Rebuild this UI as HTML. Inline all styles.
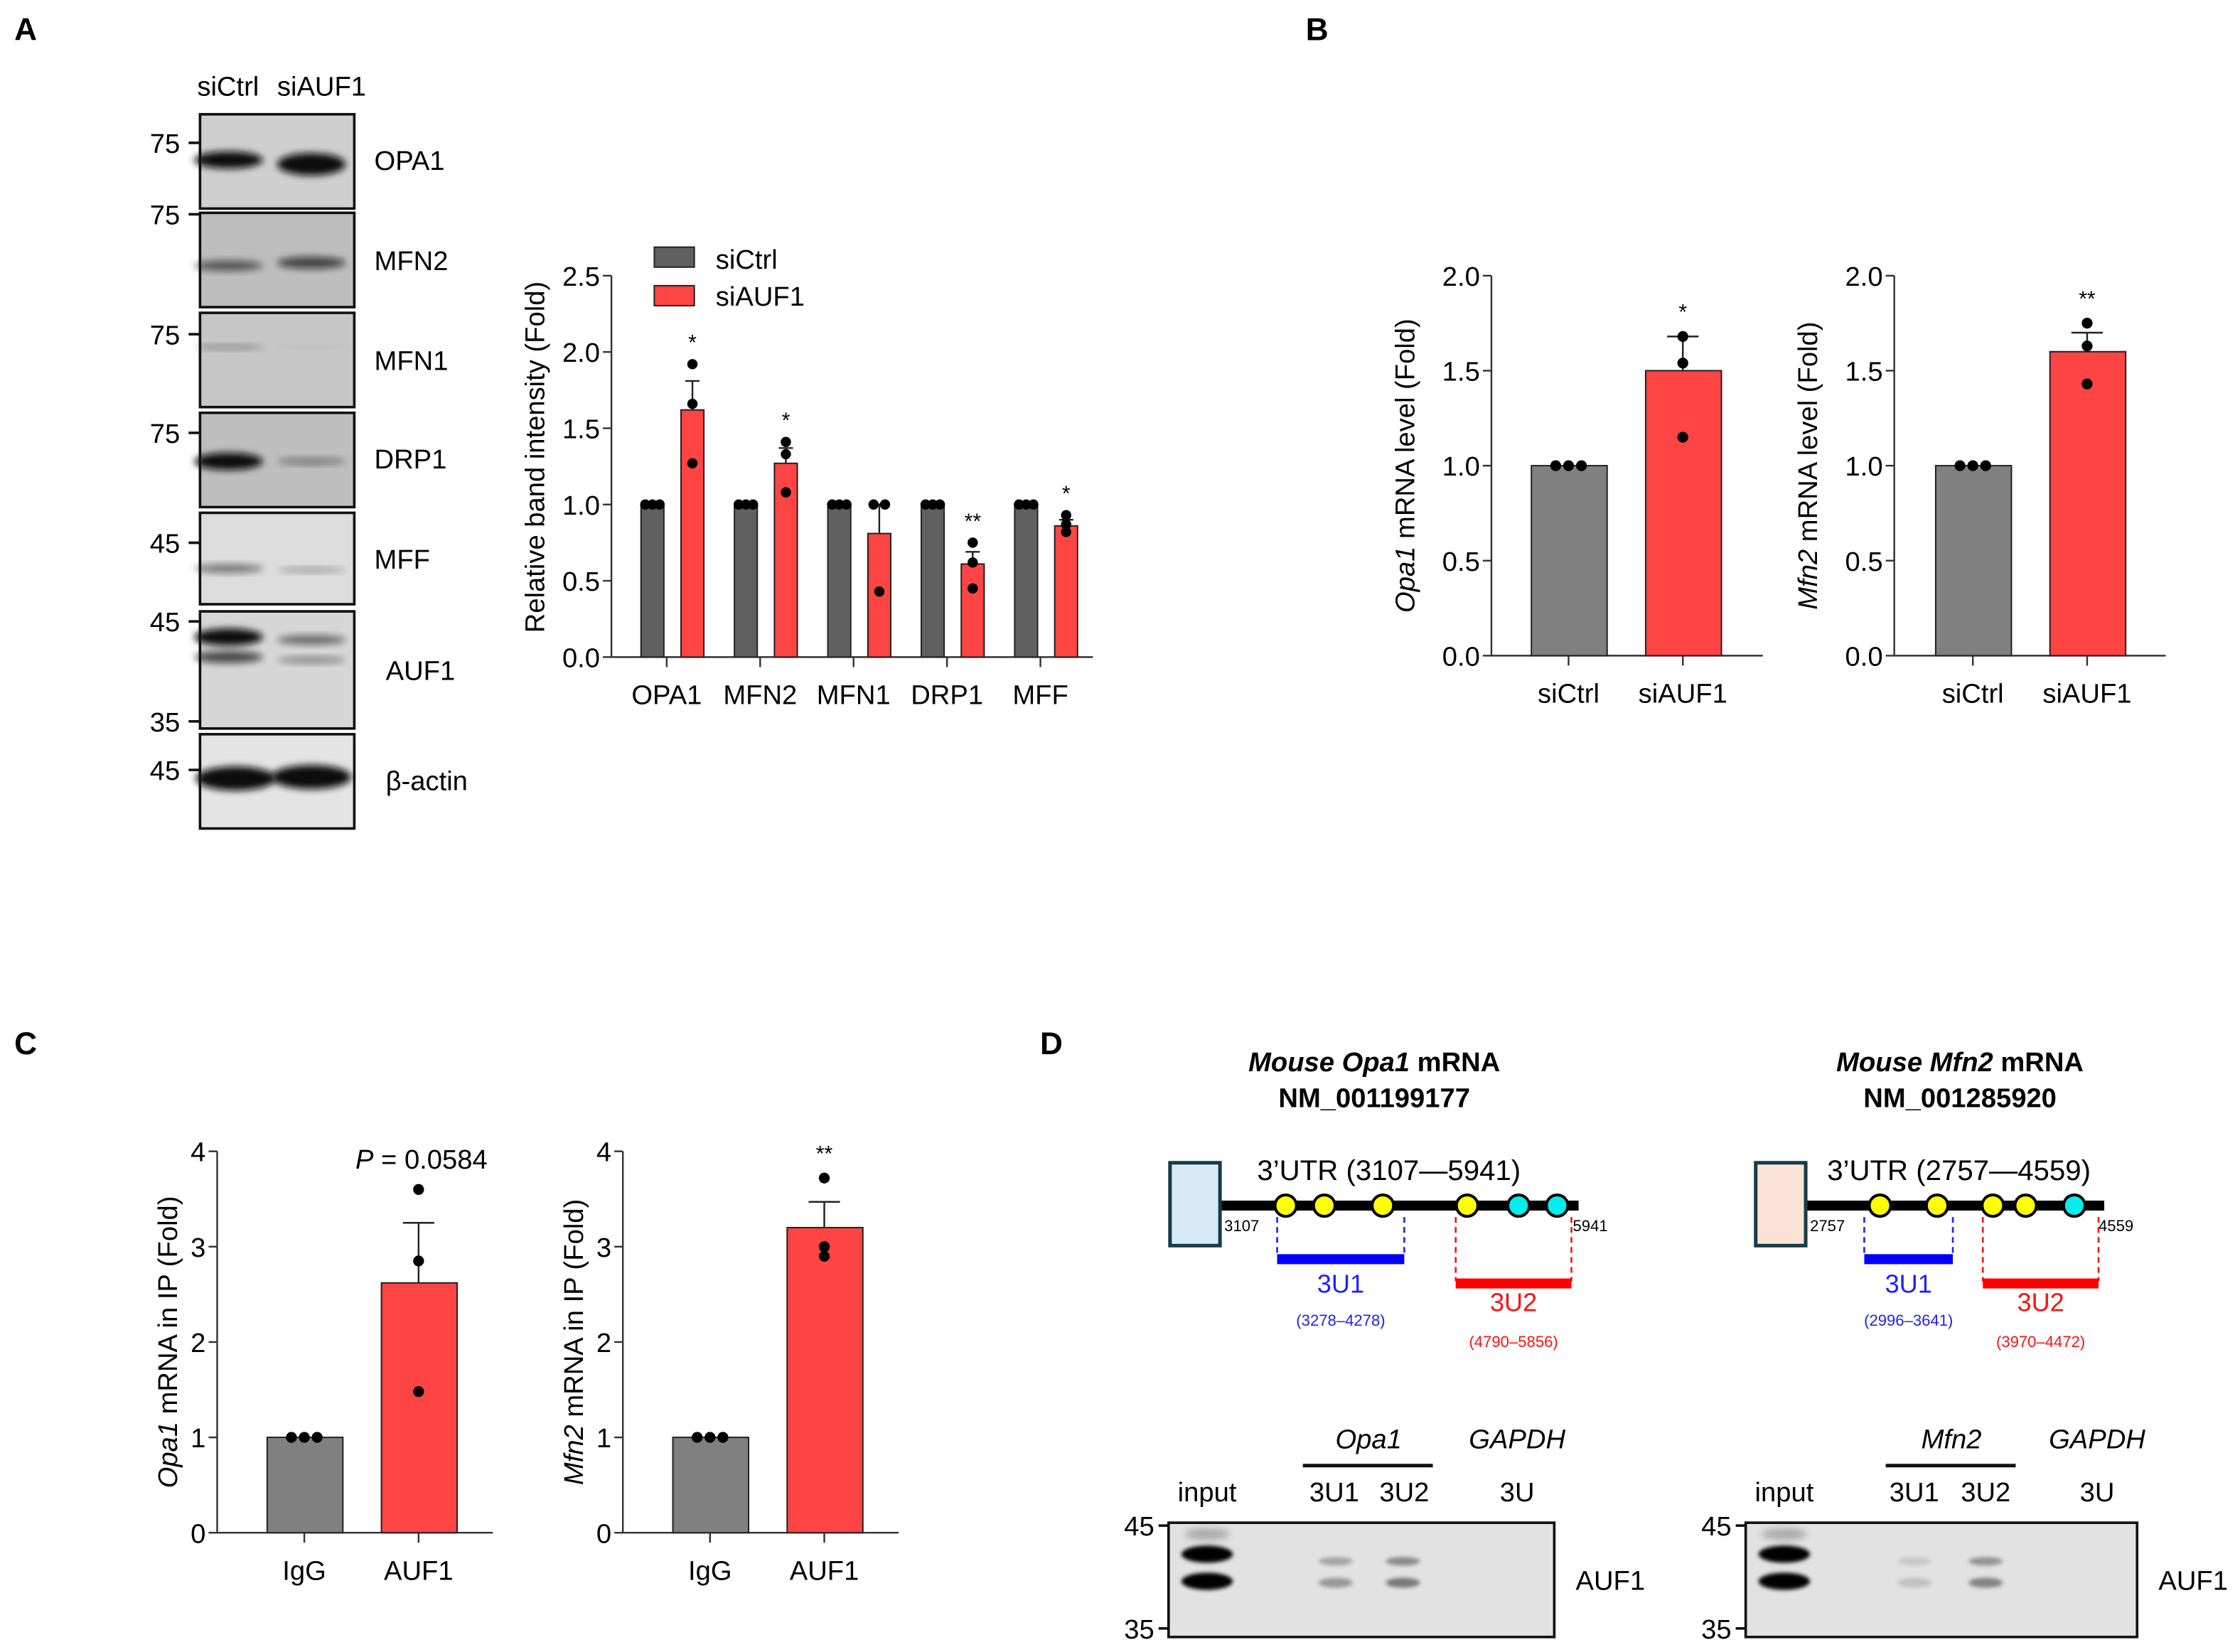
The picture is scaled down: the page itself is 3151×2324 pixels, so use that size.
<!DOCTYPE html>
<html><head><meta charset="utf-8">
<style>
html,body{margin:0;padding:0;background:#fff;}
svg{display:block;font-family:"Liberation Sans",Arial,sans-serif;}
</style></head>
<body>
<svg id="fig" xmlns="http://www.w3.org/2000/svg" width="3151" height="2324" viewBox="0 0 1568 1156.5">
<defs>
<filter id="blur2" x="-20%" y="-50%" width="140%" height="200%"><feGaussianBlur stdDeviation="2.5"/></filter>
<filter id="blur1" x="-20%" y="-50%" width="140%" height="200%"><feGaussianBlur stdDeviation="1.5"/></filter>
</defs>

<text x="10" y="28" font-size="22" font-weight="bold">A</text>
<text x="914" y="28" font-size="22" font-weight="bold">B</text>
<text x="10" y="738" font-size="22" font-weight="bold">C</text>
<text x="728" y="738" font-size="22" font-weight="bold">D</text>

<g font-size="19">
<text x="138" y="67">siCtrl</text>
<text x="194" y="67">siAUF1</text>
<g id="blotsA"></g>
</g>

<g id="chartA"></g>
<g id="chartB1"></g>
<g id="chartB2"></g>
<g id="chartC1"></g>
<g id="chartC2"></g>

<g>
<text x="962" y="750" font-size="19" font-weight="bold" text-anchor="middle"><tspan font-style="italic">Mouse Opa1</tspan> mRNA</text>
<text x="962" y="775" font-size="19" font-weight="bold" text-anchor="middle">NM_001199177</text>
<text x="1372" y="750" font-size="19" font-weight="bold" text-anchor="middle"><tspan font-style="italic">Mouse Mfn2</tspan> mRNA</text>
<text x="1372" y="775" font-size="19" font-weight="bold" text-anchor="middle">NM_001285920</text>
<g id="diagrams"></g>
<g id="blotsD"></g>
</g>

<script>
var NS='http://www.w3.org/2000/svg';
function mk(parent,tag,attrs,txt){var e=document.createElementNS(NS,tag);for(var k in attrs)e.setAttribute(k,attrs[k]);if(txt!==undefined)e.textContent=txt;parent.appendChild(e);return e;}

var catsA=['OPA1','MFN2','MFN1','DRP1','MFF'];
var ctrlA=[1,1,1,1,1];
var aufA=[1.62,1.27,0.81,0.61,0.86];
var errA=[0.19,0.10,0.19,0.08,0.04];
var dotsA=[[1.92,1.66,1.27],[1.41,1.33,1.08],[1.0,1.0,0.43],[0.75,0.62,0.45],[0.93,0.87,0.82]];
var starsA=['*','*','','**','*'];
var ticksA=['0.0','0.5','1.0','1.5','2.0','2.5'];

var catsB=['siCtrl','siAUF1'];
var opa1B=[1.0,1.5];
var opa1BErr=[0,0.18];
var opa1BDots=[[1,1,1],[1.68,1.54,1.15]];
var mfn2B=[1.0,1.6];
var mfn2BErr=[0,0.1];
var mfn2BDots=[[1,1,1],[1.75,1.63,1.43]];
var ticksB=['0.0','0.5','1.0','1.5','2.0'];

var catsC=['IgG','AUF1'];
var opa1C=[1.0,2.62];
var opa1CErr=[0,0.63];
var opa1CDots=[[1,1,1],[3.6,2.85,1.48]];
var mfn2C=[1.0,3.2];
var mfn2CErr=[0,0.27];
var mfn2CDots=[[1,1,1],[3.72,3.0,2.9]];
var ticksC=['0','1','2','3','4'];

var GRAY='#808080', GRAYA='#606060', RED='#ff4444';

function axisY(g,x0,y0,y1,vmax,ticks,fs){
  mk(g,'line',{x1:x0,y1:y0,x2:x0,y2:y1,stroke:'#333','stroke-width':1.2});
  ticks.forEach(function(t){var v=parseFloat(t);var y=y0-(y0-y1)*v/vmax;
    mk(g,'line',{x1:x0-6,y1:y,x2:x0,y2:y,stroke:'#333','stroke-width':1.2});
    var tx=mk(g,'text',{x:x0-8,y:y+7,'font-size':fs,'text-anchor':'end'},t);
    
    
  });
}

(function(){
  var g=document.getElementById('chartA');
  var x0=428,y0=460,y1=193,vmax=2.5,xEnd=765;
  var Y=function(v){return y0-(y0-y1)*v/vmax;};
  axisY(g,x0,y0,y1,vmax,ticksA,19);
  mk(g,'line',{x1:x0,y1:y0,x2:xEnd,y2:y0,stroke:'#333','stroke-width':1.2});
  var t=mk(g,'text',{x:0,y:0,'font-size':19,'text-anchor':'middle',transform:'translate(381,320) rotate(-90)'},'Relative band intensity (Fold)');
  
  
  var step=(xEnd-x0-10)/catsA.length;
  catsA.forEach(function(c,i){
    var cx=x0+14+step*(i+0.5);
    var gb=mk(g,'rect',{x:cx-26,y:Y(ctrlA[i]),width:16,height:y0-Y(ctrlA[i]),fill:GRAYA,stroke:'#222','stroke-width':1});
    
    
    [-5,0,5].forEach(function(o){var d=mk(g,'circle',{cx:cx-18+o,cy:Y(ctrlA[i]),r:3.6,fill:'#000'});
      
      });
    var rx=cx+2;
    mk(g,'line',{x1:rx+8,y1:Y(aufA[i]),x2:rx+8,y2:Y(aufA[i]+errA[i]),stroke:'#222','stroke-width':1.2});
    mk(g,'line',{x1:rx+3,y1:Y(aufA[i]+errA[i]),x2:rx+13,y2:Y(aufA[i]+errA[i]),stroke:'#222','stroke-width':1.2});
    var rb=mk(g,'rect',{x:rx,y:Y(aufA[i]),width:16,height:y0-Y(aufA[i]),fill:RED,stroke:'#222','stroke-width':1});
    
    
    dotsA[i].forEach(function(v,k){var off=0;
      if(dotsA[i][0]===dotsA[i][1]&&k<2) off=(k===0?-4:4);
      var d=mk(g,'circle',{cx:rx+8+off,cy:Y(v),r:3.6,fill:'#000'});
      
      
    });
    if(starsA[i]){var s=mk(g,'text',{x:rx+8,y:Y(Math.max.apply(null,dotsA[i].concat([aufA[i]+errA[i]])))-10,'font-size':15,'text-anchor':'middle'},starsA[i]);
      
      }
    mk(g,'line',{x1:cx-8,y1:y0,x2:cx-8,y2:y0+7,stroke:'#333','stroke-width':1.2});
    var l=mk(g,'text',{x:cx-8,y:y0+33,'font-size':19,'text-anchor':'middle'},c);
    
    
  });
  var lg=mk(g,'g',{});
  
  
  mk(lg,'rect',{x:458,y:173,width:28,height:14,fill:GRAYA,stroke:'#222','stroke-width':1});
  mk(lg,'text',{x:501,y:188,'font-size':19},'siCtrl');
  mk(lg,'rect',{x:458,y:200,width:28,height:14,fill:RED,stroke:'#222','stroke-width':1});
  mk(lg,'text',{x:501,y:214,'font-size':19},'siAUF1');
})();

function twoBar(id,x0,y0,y1,vmax,ticks,vals,errs,dts,cats,star,title,titleX,titleIt,extraTxt,c0,c1,xLen){
  var g=document.getElementById(id);
  var xEnd=x0+xLen;
  var Y=function(v){return y0-(y0-y1)*v/vmax;};
  axisY(g,x0,y0,y1,vmax,ticks,19);
  mk(g,'line',{x1:x0,y1:y0,x2:xEnd,y2:y0,stroke:'#333','stroke-width':1.2});
  var t=mk(g,'text',{x:0,y:0,'font-size':19,'text-anchor':'middle',transform:'translate('+titleX+','+(y1+(y0-y1)/2)+') rotate(-90)'});
  
  
  mk(t,'tspan',{'font-style':'italic'},titleIt);
  mk(t,'tspan',{},title);
  var centers=[x0+c0,x0+c1];
  [0,1].forEach(function(i){
    var cx=centers[i];
    if(errs[i]>0){
      mk(g,'line',{x1:cx,y1:Y(vals[i]),x2:cx,y2:Y(vals[i]+errs[i]),stroke:'#222','stroke-width':1.2});
      mk(g,'line',{x1:cx-11,y1:Y(vals[i]+errs[i]),x2:cx+11,y2:Y(vals[i]+errs[i]),stroke:'#222','stroke-width':1.2});
    }
    var b=mk(g,'rect',{x:cx-26,y:Y(vals[i]),width:53,height:y0-Y(vals[i]),fill:i?RED:GRAY,stroke:'#222','stroke-width':1});
    
    
    var same=dts[i].every(function(a){return a===dts[i][0];});
    dts[i].forEach(function(v,k){
      var d=mk(g,'circle',{cx:cx+(same?(k-1)*9:0),cy:Y(v),r:3.8,fill:'#000'});
      
      
    });
    mk(g,'line',{x1:cx,y1:y0,x2:cx,y2:y0+7,stroke:'#333','stroke-width':1.2});
    var l=mk(g,'text',{x:cx,y:y0+33,'font-size':19,'text-anchor':'middle'},cats[i]);
    
    
  });
  if(star){var top=Math.max.apply(null,dts[1].concat([vals[1]+errs[1]]));
    var s=mk(g,'text',{x:centers[1],y:Y(top)-12,'font-size':15,'text-anchor':'middle'},star);
    
    }
  if(extraTxt){var e=mk(g,'text',{x:centers[1]+2,y:Y(vmax)+12,'font-size':19,'text-anchor':'middle'});
    
    
    mk(e,'tspan',{'font-style':'italic'},'P');
    mk(e,'tspan',{},' = 0.0584');}
}
twoBar('chartB1',1044,459,193,2.0,ticksB,opa1B,opa1BErr,opa1BDots,catsB,'*',' mRNA level (Fold)',990,'Opa1',false,54,134,190);
twoBar('chartB2',1326,459,193,2.0,ticksB,mfn2B,mfn2BErr,mfn2BDots,catsB,'**',' mRNA level (Fold)',1272,'Mfn2',false,55,135,190);
twoBar('chartC1',152,1073,806,4,ticksC,opa1C,opa1CErr,opa1CDots,catsC,'',' mRNA in IP (Fold)',124,'Opa1',true,61,141,193);
twoBar('chartC2',436,1073,806,4,ticksC,mfn2C,mfn2CErr,mfn2CDots,catsC,'**',' mRNA in IP (Fold)',408,'Mfn2',false,61,141,193);

(function(){
  var g=document.getElementById('blotsA');
  var blots=[
    {n:'OPA1',y:80,h:66,bg:'#cfcfcf',bands:[[160,112,1],[215,115,1.3]],ly:119,lx:262},
    {n:'MFN2',y:149,h:66,bg:'#bdbdbd',bands:[[160,186,0.6],[215,184,0.7]],ly:189,lx:262},
    {n:'MFN1',y:219,h:66,bg:'#c6c6c6',bands:[[160,243,0.3],[215,243,0.12]],ly:259,lx:262},
    {n:'DRP1',y:289,h:66,bg:'#bebebe',bands:[[160,323,1],[215,323,0.4]],ly:328,lx:262},
    {n:'MFF',y:359,h:64,bg:'#dcdcdc',bands:[[160,398,0.5],[215,399,0.3]],ly:398,lx:262},
    {n:'AUF1',y:428,h:82,bg:'#d6d6d6',bands:[[160,446,1],[215,448,0.55],[160,460,0.7],[215,462,0.4]],ly:476,lx:270},
    {n:'β-actin',y:514,h:66,bg:'#e4e4e4',bands:[[165,545,1.6],[215,544,1.6]],ly:553,lx:270}
  ];
  blots.forEach(function(b){
    var gg=mk(g,'g',{});
    
    
    mk(gg,'rect',{x:140,y:b.y,width:108,height:b.h,fill:b.bg});
    b.bands.forEach(function(d){
      var w=b.n==='β-actin'?28:24;
      mk(gg,'ellipse',{cx:d[0]+(d[0]>190?3:0),cy:d[1],rx:w,ry:6*Math.min(d[2],1.4),fill:'#111',opacity:Math.min(d[2],1),filter:'url(#blur2)'});
    });
    mk(gg,'rect',{x:140,y:b.y,width:108,height:b.h,fill:'none',stroke:'#111','stroke-width':1.8});
    mk(gg,'text',{x:b.lx,y:b.ly,'font-size':19},b.n);
  });
  var marks=[[100,'75'],[150,'75'],[234,'75'],[303,'75'],[380,'45'],[435,'45'],[505,'35'],[539,'45']];
  marks.forEach(function(m){
    mk(g,'line',{x1:132,y1:m[0],x2:140,y2:m[0],stroke:'#111','stroke-width':1.8});
    var t=mk(g,'text',{x:126,y:m[0]+7,'font-size':19,'text-anchor':'end'},m[1]);
    
    
  });
})();

function diagram(o){
  var g=mk(document.getElementById('diagrams'),'g',{});
  
  
  mk(g,'line',{x1:o.bx+35,y1:844,x2:o.lineEnd,y2:844,stroke:'#000','stroke-width':7});
  mk(g,'rect',{x:o.bx,y:814,width:35,height:58,fill:o.fill,stroke:'#1a3a48','stroke-width':2.5});
  mk(g,'text',{x:o.utrX,y:826,'font-size':20},o.utr);
  mk(g,'text',{x:o.bx+38,y:862,'font-size':11},o.s);
  mk(g,'text',{x:o.lineEnd-4,y:862,'font-size':11},o.e);
  [[o.u1,'#2020ff',880,o.u1t,o.u1r,905,928],[o.u2,'#ff1010',897,o.u2t,o.u2r,918,943]].forEach(function(r){
    mk(g,'line',{x1:r[0][0],y1:852,x2:r[0][0],y2:r[2],stroke:r[1],'stroke-width':1.3,'stroke-dasharray':'4,3'});
    mk(g,'line',{x1:r[0][1],y1:852,x2:r[0][1],y2:r[2],stroke:r[1],'stroke-width':1.3,'stroke-dasharray':'4,3'});
    mk(g,'rect',{x:r[0][0],y:r[2]-2,width:r[0][1]-r[0][0],height:7,fill:r[1]==='#2020ff'?'#0000ff':'#ff0000'});
    var cx=(r[0][0]+r[0][1])/2;
    mk(g,'text',{x:cx,y:r[5],'font-size':18,'text-anchor':'middle',fill:r[1]},r[3]);
    mk(g,'text',{x:cx,y:r[6],'font-size':11,'text-anchor':'middle',fill:r[1]},r[4]);
  });
  o.circ.forEach(function(c){
    var e=mk(g,'circle',{cx:c[0],cy:844,r:7.5,fill:c[1],stroke:'#000','stroke-width':2});
    
    
  });
}
diagram({name:'opa1-utr-diagram',bx:819,fill:'#d8eaf8',lineEnd:1105,utrX:880,utr:'3\u2019UTR (3107\u20145941)',s:'3107',e:'5941',
  u1:[894,983],u1t:'3U1',u1r:'(3278\u20134278)',u2:[1019,1100],u2t:'3U2',u2r:'(4790\u20135856)',
  circ:[[900,'#ffff00'],[927,'#ffff00'],[968,'#ffff00'],[1027,'#ffff00'],[1063,'#00eeee'],[1090,'#00eeee']]});
diagram({name:'mfn2-utr-diagram',bx:1229,fill:'#fbe2d6',lineEnd:1473,utrX:1279,utr:'3\u2019UTR (2757\u20144559)',s:'2757',e:'4559',
  u1:[1305,1367],u1t:'3U1',u1r:'(2996\u20133641)',u2:[1388,1469],u2t:'3U2',u2r:'(3970\u20134472)',
  circ:[[1316,'#ffff00'],[1356,'#ffff00'],[1395,'#ffff00'],[1418,'#ffff00'],[1452,'#00eeee']]});

function blotD(o){
  var g=mk(document.getElementById('blotsD'),'g',{});
  
  
  mk(g,'rect',{x:o.x,y:1066,width:o.w,height:80,fill:'#e2e2e2'});
  [[1088,1],[1107,1]].forEach(function(b){
    mk(g,'ellipse',{cx:o.inp,cy:b[0],rx:18,ry:6,fill:'#050505',filter:'url(#blur1)'});
  });
  mk(g,'ellipse',{cx:o.inp,cy:1074,rx:16,ry:4,fill:'#555',opacity:0.4,filter:'url(#blur2)'});
  o.faint.forEach(function(f){
    mk(g,'ellipse',{cx:f[0],cy:1093,rx:12,ry:3,fill:'#333',opacity:f[1],filter:'url(#blur1)'});
    mk(g,'ellipse',{cx:f[0],cy:1108,rx:12,ry:3.5,fill:'#333',opacity:f[1]*1.2,filter:'url(#blur1)'});
  });
  mk(g,'rect',{x:o.x,y:1066,width:o.w,height:80,fill:'none',stroke:'#111','stroke-width':1.8});
  [[1068,'45'],[1140,'35']].forEach(function(m){
    mk(g,'line',{x1:o.x-7,y1:m[0],x2:o.x,y2:m[0],stroke:'#111','stroke-width':1.8});
    mk(g,'text',{x:o.x-10,y:m[0]+7,'font-size':19,'text-anchor':'end'},m[1]);
  });
  mk(g,'text',{x:o.inp,y:1051,'font-size':19,'text-anchor':'middle'},'input');
  mk(g,'text',{x:o.gene[0],y:1014,'font-size':19,'text-anchor':'middle','font-style':'italic'},o.gene[1]);
  mk(g,'line',{x1:o.bar[0],y1:1026,x2:o.bar[1],y2:1026,stroke:'#111','stroke-width':2.5});
  mk(g,'text',{x:o.l1,y:1051,'font-size':19,'text-anchor':'middle'},'3U1');
  mk(g,'text',{x:o.l2,y:1051,'font-size':19,'text-anchor':'middle'},'3U2');
  mk(g,'text',{x:o.gap,y:1014,'font-size':19,'text-anchor':'middle','font-style':'italic'},'GAPDH');
  mk(g,'text',{x:o.gap,y:1051,'font-size':19,'text-anchor':'middle'},'3U');
  mk(g,'text',{x:o.x+o.w+15,y:1113,'font-size':19},'AUF1');
}
blotD({name:'opa1-rip-blot',x:818,w:270,inp:845,faint:[[935,0.35],[982,0.5]],gene:[958,'Opa1'],bar:[912,1003],l1:934,l2:983,gap:1062});
blotD({name:'mfn2-rip-blot',x:1222,w:274,inp:1249,faint:[[1340,0.15],[1390,0.45]],gene:[1366,'Mfn2'],bar:[1320,1411],l1:1340,l2:1390,gap:1468});
</script>
</svg>
</body></html>
